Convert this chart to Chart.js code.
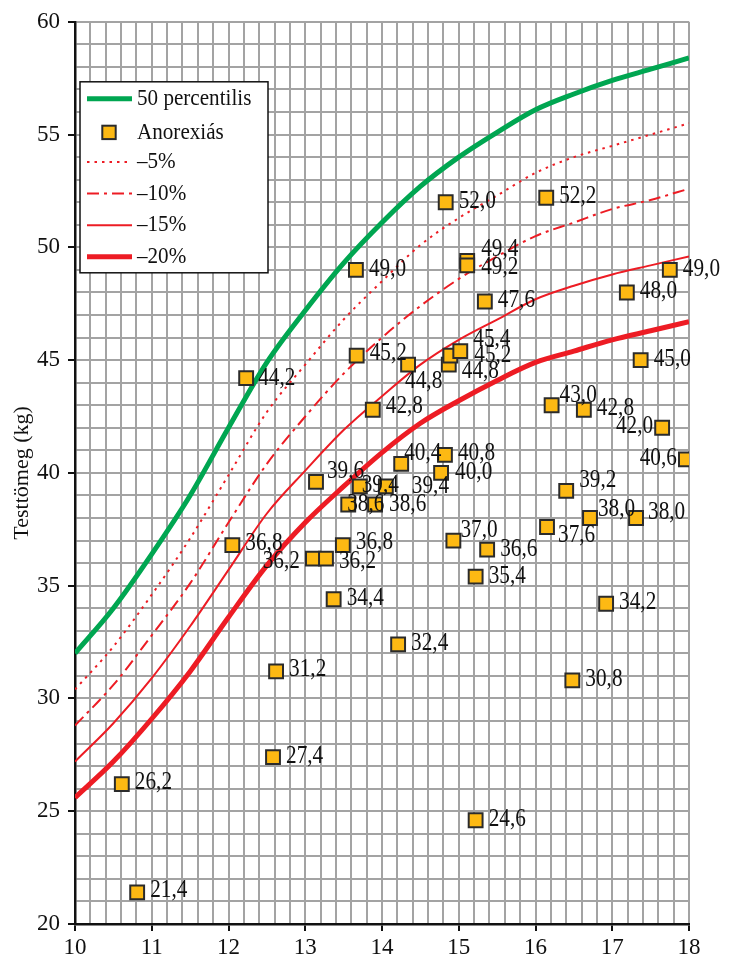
<!DOCTYPE html>
<html><head><meta charset="utf-8">
<script src="https://cdn.jsdelivr.net/npm/chart.js@4.4.1/dist/chart.umd.min.js"></script>
<style>html,body{margin:0;padding:0;background:#fff}#wrap{width:734px;height:969px;position:relative}</style>
</head><body><div id="wrap"><canvas id="c"></canvas></div>
<script>
// ---- data ----
const ages = [10,10.5,11,11.5,12,12.5,13,13.5,14,14.5,15,15.5,16,16.5,17,17.5,18];
const p50  = [32.0,34.0,36.4,39.0,42.0,44.9,47.2,49.3,51.1,52.7,54.0,55.1,56.1,56.8,57.4,57.9,58.4];
const m5   = [30.4,32.3,34.6,37.1,39.9,42.7,44.8,46.8,48.5,50.1,51.3,52.3,53.3,54.0,54.5,55.0,55.5];
const m10  = [28.8,30.6,32.8,35.1,37.8,40.4,42.5,44.4,46.0,47.4,48.6,49.6,50.5,51.1,51.7,52.1,52.6];
const m15  = [27.2,28.9,30.9,33.2,35.7,38.2,40.1,41.9,43.4,44.8,45.9,46.8,47.7,48.3,48.8,49.2,49.6];
const m20  = [25.6,27.2,29.1,31.2,33.6,35.9,37.8,39.4,40.9,42.2,43.2,44.1,44.9,45.4,45.9,46.3,46.7];
const patientAge = [10.61,10.81,12.23,12.05,12.62,12.58,13.10,13.27,13.14,13.49,13.37,13.66,13.67,13.88,13.56,13.91,13.71,14.05,14.25,14.21,14.34,14.83,14.82,14.77,14.93,14.87,14.89,15.02,15.11,15.11,15.34,15.22,15.37,15.22,16.14,16.21,16.63,16.40,16.15,16.71,17.31,16.48,16.92,17.19,17.37,17.65,17.96,17.75];
const patientWeight = [26.2,21.4,44.2,36.8,31.2,27.4,36.2,36.2,39.6,36.8,34.4,49.0,45.2,42.8,38.6,38.6,39.4,39.4,40.4,32.4,44.8,52.0,40.8,40.0,37.0,44.8,45.2,45.4,49.4,49.2,47.6,35.4,36.6,24.6,52.2,43.0,42.8,39.2,37.6,38.0,38.0,30.8,34.2,48.0,45.0,42.0,40.6,49.0];
const xTickLabels = ['10','11','12','13','14','15','16','17','18'];
const yTickLabels = ['20','25','30','35','40','45','50','55','60'];
const seriesNames = ['50 percentilis','Anorexiás','\u20135%','\u201310%','\u201315%','\u201320%'];

// label placement for each point label: [dx, dy, align]
const labelShift = [
 [13,-2,'l'],[13,-2,'l'],[12,0,'l'],[13,-2,'l'],[13,-2,'l'],[13,-1,'l'],
 [-13,3,'r'],[13,3,'l'],[11,-10,'l'],[13,-3,'l'],[13,-1,'l'],[13,0,'l'],
 [13,-2,'l'],[13,-3,'l'],[-1,0,'l'],[14,0,'l'],[2,-1,'l'],[26,0,'l'],
 [3,-10,'l'],[13,-1,'l'],[-3,17,'l'],[13,-1,'l'],[13,-1,'l'],[14,0,'l'],
 [7,-10,'l'],[13,7,'l'],[24,0,'l'],[13,-12,'l'],[14,-11,'l'],[14,2,'l'],
 [13,-1,'l'],[13,0,'l'],[13,0,'l'],[13,-1,'l'],[13,-1,'l'],[8,-10,'l'],
 [13,-1,'l'],[13,-11,'l'],[11,8,'l'],[8,-9,'l'],[12,-6,'l'],[13,-1,'l'],
 [13,-1,'l'],[13,-1,'l'],[13,-1,'l'],[-9,-1,'r'],[-9,-1,'r'],[13,0,'l']
];

const F = "'Liberation Serif','Times New Roman',serif";
const GREEN = '#00a651', RED = '#ed1c24', GOLD = '#fdb913';
const isStep = (v, s) => Math.abs(v / s - Math.round(v / s)) < 1e-6;

const curve = (arr) => ages.map((x, i) => ({x, y: arr[i]}));

const datasets = [
  {type:'scatter', label: seriesNames[1], data: patientAge.map((x,i)=>({x, y: patientWeight[i]})),
   pointStyle:'rect', pointRadius:9.8, pointBackgroundColor:GOLD, pointBorderColor:'#2b2b2b', pointBorderWidth:2, order:0},
  {type:'line', label: seriesNames[0], data: curve(p50), borderColor:GREEN, borderWidth:5, pointRadius:0, cubicInterpolationMode:'monotone', fill:false, order:1},
  {type:'line', label: seriesNames[2], data: curve(m5), borderColor:RED, borderWidth:2, borderDash:[2.5,5], pointRadius:0, cubicInterpolationMode:'monotone', fill:false, order:2},
  {type:'line', label: seriesNames[3], data: curve(m10), borderColor:RED, borderWidth:2, borderDash:[12,5,3,5], pointRadius:0, cubicInterpolationMode:'monotone', fill:false, order:3},
  {type:'line', label: seriesNames[4], data: curve(m15), borderColor:RED, borderWidth:2, pointRadius:0, cubicInterpolationMode:'monotone', fill:false, order:4},
  {type:'line', label: seriesNames[5], data: curve(m20), borderColor:RED, borderWidth:5, pointRadius:0, cubicInterpolationMode:'monotone', fill:false, order:5}
];
const legendOrder = [1,0,2,3,4,5];

const pointLabels = {
  id:'pointLabels',
  afterDatasetsDraw(chart){
    const meta = chart.getDatasetMeta(0);
    const ctx = chart.ctx;
    ctx.save();
    ctx.font = "25px " + F;
    ctx.fillStyle = '#111';
    ctx.textBaseline = 'middle';
    meta.data.forEach((el, i) => {
      const s = labelShift[i] || [13,-1,'l'];
      const txt = patientWeight[i].toFixed(1).replace('.', ',');
      ctx.save();
      ctx.translate(el.x + s[0], el.y + s[1]);
      ctx.scale(0.85, 1);
      ctx.textAlign = s[2] === 'r' ? 'right' : 'left';
      ctx.fillText(txt, 0, 0);
      ctx.restore();
    });
    ctx.restore();
  }
};

const legendBox = {
  id:'legendBox',
  afterDraw(chart){
    const {ctx, chartArea:a} = chart;
    const x0 = a.left + 5, y0 = a.top + 60, w = 188, h = 191;
    ctx.save();
    ctx.fillStyle = '#fff';
    ctx.fillRect(x0, y0, w, h);
    ctx.strokeStyle = '#111';
    ctx.lineWidth = 1.5;
    ctx.strokeRect(x0, y0, w, h);
    legendOrder.forEach((di, row) => {
      const ds = chart.data.datasets[di];
      const cy = y0 + 17 + row * 31.6 + (row === 1 ? 2 : 0);
      if (ds.type === 'scatter') {
        const sz = 13.4;
        ctx.fillStyle = ds.pointBackgroundColor;
        ctx.strokeStyle = ds.pointBorderColor;
        ctx.lineWidth = 2;
        ctx.setLineDash([]);
        ctx.fillRect(x0 + 29 - sz/2, cy - sz/2, sz, sz);
        ctx.strokeRect(x0 + 29 - sz/2, cy - sz/2, sz, sz);
      } else {
        ctx.strokeStyle = ds.borderColor;
        ctx.lineWidth = ds.borderWidth;
        ctx.setLineDash(ds.borderDash || []);
        ctx.beginPath();
        ctx.moveTo(x0 + 7, cy);
        ctx.lineTo(x0 + 52, cy);
        ctx.stroke();
      }
      ctx.setLineDash([]);
      ctx.save();
      ctx.translate(x0 + 57, cy);
      ctx.scale(0.88, 1);
      ctx.fillStyle = '#111';
      ctx.font = "24px " + F;
      ctx.textBaseline = 'middle';
      ctx.textAlign = 'left';
      ctx.fillText(ds.label, 0, 0);
      ctx.restore();
    });
    ctx.restore();
  }
};

new Chart(document.getElementById('c'), {
  type:'scatter',
  data:{datasets},
  options:{
    responsive:true, maintainAspectRatio:false, animation:false,
    layout:{padding:{top:18, right:45, left:0, bottom:0}},
    plugins:{legend:{display:false}, tooltip:{enabled:false}},
    scales:{
      x:{
        type:'linear', min:10, max:18, position:'bottom',
        ticks:{stepSize:0.2, autoSkip:false, maxRotation:0, minRotation:0, padding:3, color:'#111',
          font:{family:F, size:23},
          callback:(v)=> isStep(v,1) ? xTickLabels[Math.round(v)-10] : ''},
        grid:{color:'#a3a3a3', lineWidth:2, drawTicks:true, tickLength:7, tickWidth:2,
          tickColor:(c)=> (c.tick && isStep(c.tick.value,1)) ? '#111' : 'rgba(0,0,0,0)'},
        border:{color:'#111', width:2.5},
        afterFit(s){ s.height = 45; }
      },
      y:{
        type:'linear', min:20, max:60,
        ticks:{stepSize:1, autoSkip:false, padding:8, color:'#111',
          font:{family:F, size:23},
          callback:(v)=> isStep(v,5) ? yTickLabels[Math.round((v-20)/5)] : ''},
        grid:{color:'#a3a3a3', lineWidth:2, drawTicks:true, tickLength:7, tickWidth:2,
          tickColor:(c)=> (c.tick && isStep(c.tick.value,5)) ? '#111' : 'rgba(0,0,0,0)'},
        border:{color:'#111', width:2.5},
        title:{display:true, text:'Testtömeg (kg)', color:'#111', font:{family:F, size:22}, padding:{top:9, bottom:0}},
        afterFit(s){ s.width = 75; }
      }
    }
  },
  plugins:[pointLabels, legendBox]
});
</script>
</body></html>
